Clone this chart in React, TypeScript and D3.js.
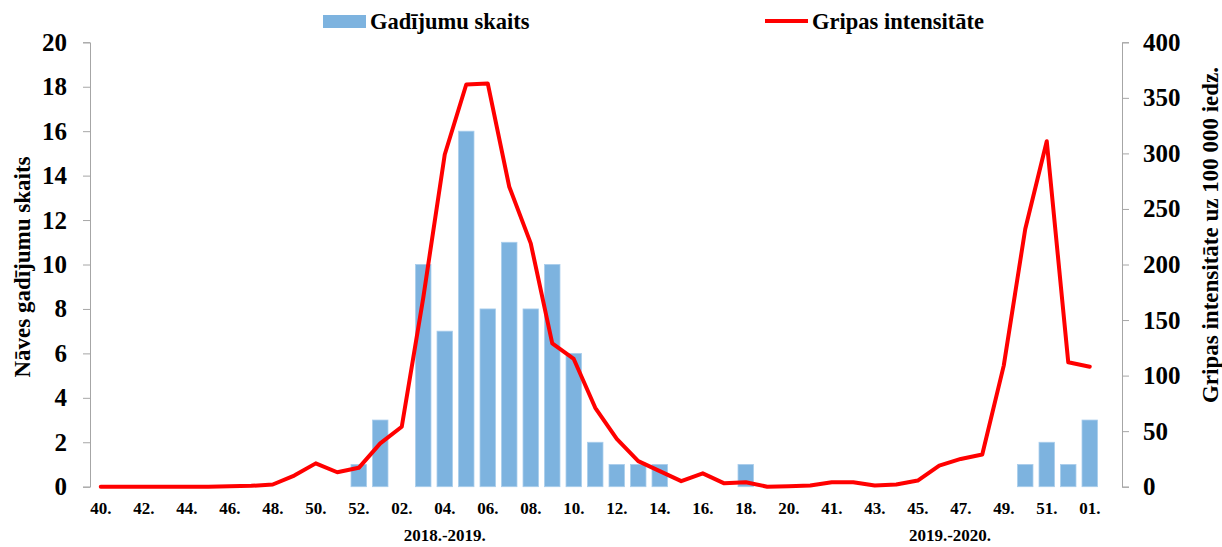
import * as d3 from 'd3'
import React, { useEffect, useRef } from 'react'

// week labels, 2018.-2019. season then 2019.-2020. season (last slot empty)
const weeks = [
    '40.', '41.', '42.', '43.', '44.', '45.', '46.', '47.', '48.', '49.', '50.', '51.', '52.',
    '01.', '02.', '03.', '04.', '05.', '06.', '07.', '08.', '09.', '10.', '11.', '12.', '13.',
    '14.', '15.', '16.', '17.', '18.', '19.', '20.',
    '40.', '41.', '42.', '43.', '44.', '45.', '46.', '47.', '48.', '49.', '50.', '51.', '52.', '01.',
    '',
];

const deaths = [
    0, 0, 0, 0, 0, 0, 0, 0, 0, 0, 0, 0, 1,
    3, 0, 10, 7, 16, 8, 11, 8, 10, 6, 2, 1, 1,
    1, 0, 0, 0, 1, 0, 0,
    0, 0, 0, 0, 0, 0, 0, 0, 0, 0, 1, 2, 1, 3,
];

const intensity = [
    0, 0, 0, 0, 0, 0, 0.3, 0.8, 2, 10, 21, 13, 17,
    39, 54, 170, 299, 362, 363, 270, 219, 129, 115, 71, 43, 23,
    14, 5, 12, 3, 4, 0, 0.5,
    1, 4, 4, 1, 2, 5.5, 19, 25, 29, 109, 232, 311, 112, 108,
];

const leftTicks = [0, 2, 4, 6, 8, 10, 12, 14, 16, 18, 20];
const rightTicks = [0, 50, 100, 150, 200, 250, 300, 350, 400];
const seasons = ['2018.-2019.', '2019.-2020.'];

const seriesNames = { bars: 'Gadījumu skaits', line: 'Gripas intensitāte' };
const titles = { left: 'Nāves gadījumu skaits', right: 'Gripas intensitāte uz 100 000 iedz.' };

const App: React.FC = () => {
    const ref = useRef<SVGSVGElement>(null);

    useEffect(() => {
        document.body.style.margin = '0';
        if (!ref.current) return;
        const width = 1222;
        const height = 547;
        const m = { top: 42.3, right: 100, bottom: 60.3, left: 90 };
        const font = '"Liberation Serif", "Times New Roman", serif';
        const axisColor = '#a6a6a6';

        const svg = d3.select(ref.current)
            .attr('width', width)
            .attr('height', height);
        svg.selectAll('*').remove();

        const x = d3.scaleBand<number>()
            .domain(weeks.map((_, i) => i))
            .range([m.left, width - m.right])
            .paddingInner(0.28)
            .paddingOuter(0.14);
        const step = x.step();
        const cx = (i: number) => (x(i) as number) + x.bandwidth() / 2;

        const yL = d3.scaleLinear().domain([0, 20]).range([height - m.bottom, m.top]);
        const yR = d3.scaleLinear().domain([0, 400]).range([height - m.bottom, m.top]);

        // bars
        svg.append('g')
            .selectAll('rect')
            .data(deaths.map((v, i) => ({ v, i })).filter(d => d.v > 0))
            .enter()
            .append('rect')
            .attr('x', d => x(d.i) as number)
            .attr('width', x.bandwidth())
            .attr('y', d => yL(d.v))
            .attr('height', d => yL(0) - yL(d.v))
            .attr('fill', '#7db3df')
            .attr('stroke', '#a9cdec')
            .attr('stroke-width', 0.8);

        // line
        const line = d3.line<number>()
            .x((_, i) => cx(i))
            .y(d => yR(d));
        svg.append('path')
            .datum(intensity)
            .attr('d', line)
            .attr('fill', 'none')
            .attr('stroke', '#ff0000')
            .attr('stroke-width', 4)
            .attr('stroke-linejoin', 'round')
            .attr('stroke-linecap', 'round');

        // left axis
        const left = svg.append('g')
            .attr('transform', `translate(${m.left},0)`)
            .call(d3.axisLeft(yL).tickValues(leftTicks).tickSize(7).tickSizeOuter(7).tickPadding(16));
        // right axis
        const right = svg.append('g')
            .attr('transform', `translate(${width - m.right},0)`)
            .call(d3.axisRight(yR).tickValues(rightTicks).tickSize(7).tickSizeOuter(7).tickPadding(14));

        [left, right].forEach(g => {
            g.selectAll('path, line').attr('stroke', axisColor);
            g.selectAll('text')
                .attr('font-family', font)
                .attr('font-weight', 'bold')
                .attr('font-size', 25)
                .attr('fill', '#000');
        });

        // x labels (every other week)
        svg.append('g')
            .selectAll('text')
            .data(weeks.map((w, i) => ({ w, i })).filter(d => d.i % 2 === 0 && d.w !== ''))
            .enter()
            .append('text')
            .attr('x', d => cx(d.i))
            .attr('y', 514)
            .attr('text-anchor', 'middle')
            .attr('font-family', font)
            .attr('font-weight', 'bold')
            .attr('font-size', 17)
            .text(d => d.w);

        // season labels
        const seasonX = [cx(16), cx(39) + step / 2];
        svg.append('g')
            .selectAll('text')
            .data(seasons)
            .enter()
            .append('text')
            .attr('x', (_, i) => seasonX[i])
            .attr('y', 541)
            .attr('text-anchor', 'middle')
            .attr('font-family', font)
            .attr('font-weight', 'bold')
            .attr('font-size', 17)
            .text(d => d);

        // axis titles
        svg.append('text')
            .attr('transform', `translate(22,267) rotate(-90)`)
            .attr('text-anchor', 'middle')
            .attr('dominant-baseline', 'central')
            .attr('font-family', font)
            .attr('font-weight', 'bold')
            .attr('font-size', 23)
            .text(titles.left);
        svg.append('text')
            .attr('transform', `translate(1210,235) rotate(-90)`)
            .attr('text-anchor', 'middle')
            .attr('dominant-baseline', 'central')
            .attr('font-family', font)
            .attr('font-weight', 'bold')
            .attr('font-size', 23)
            .text(titles.right);

        // legend
        const legend = svg.append('g')
            .attr('font-family', font)
            .attr('font-weight', 'bold')
            .attr('font-size', 22.5);
        legend.append('rect')
            .attr('x', 323).attr('y', 15).attr('width', 43).attr('height', 13)
            .attr('fill', '#7db3df');
        legend.append('text').attr('x', 370).attr('y', 29).text(seriesNames.bars);
        legend.append('line')
            .attr('x1', 765).attr('x2', 808).attr('y1', 21).attr('y2', 21)
            .attr('stroke', '#ff0000').attr('stroke-width', 4);
        legend.append('text').attr('x', 812).attr('y', 29).text(seriesNames.line);
    }, []);

    return <svg ref={ref} style={{ display: 'block' }}></svg>;
};

export default App;
